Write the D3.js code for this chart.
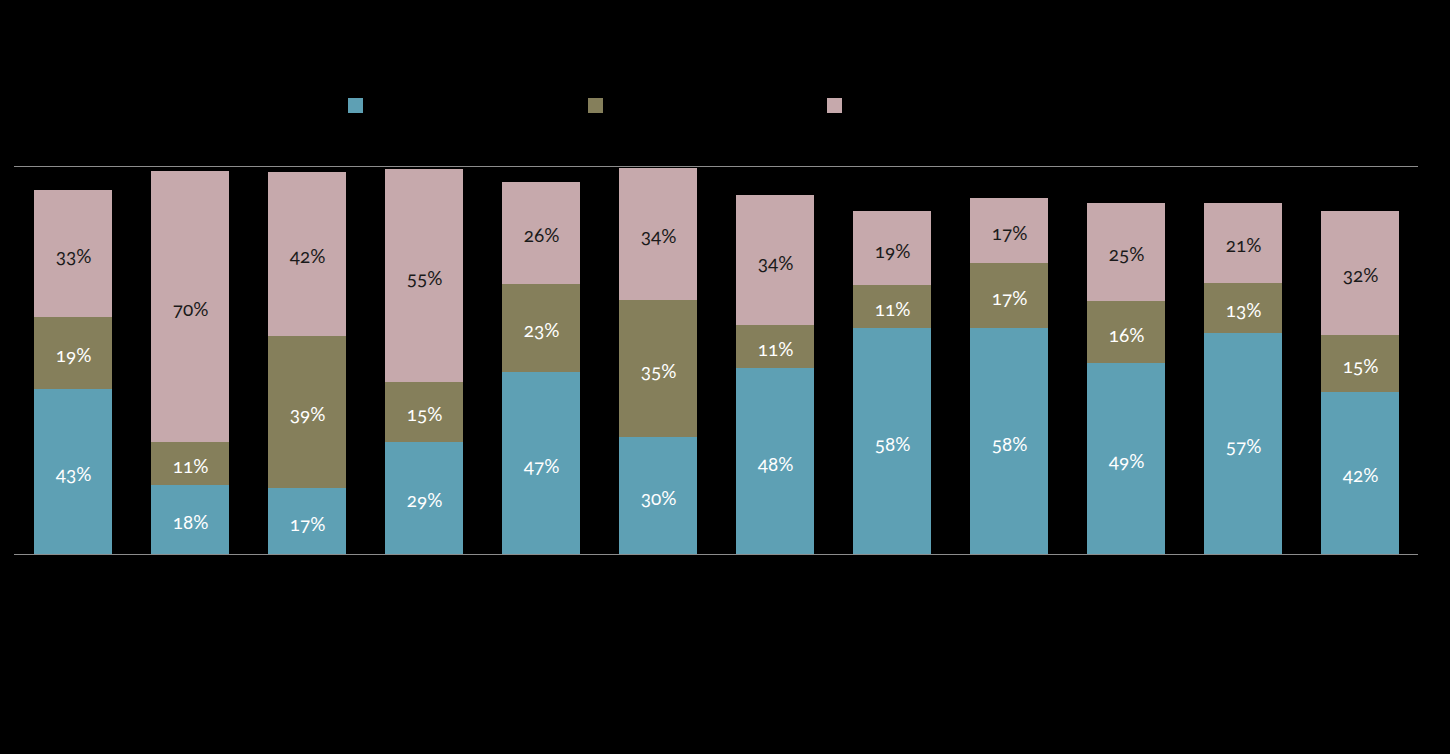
<!DOCTYPE html>
<html>
<head>
<meta charset="utf-8">
<script src="https://cdn.jsdelivr.net/npm/d3@7"></script>
<style>
  html, body { margin: 0; padding: 0; background: #000; }
  svg { display: block; }
  .lbl { font-feature-settings: "onum" 1; font-variant-numeric: oldstyle-nums; }
</style>
</head>
<body>
<svg id="chart" width="1450" height="754"></svg>
<script>
// Data (percent shares per column; labels show rounded values)
const categories = ["1", "2", "3", "4", "5", "6", "7", "8", "9", "10", "11", "12"];
const seriesNames = ["Series A", "Series B", "Series C"];
const seriesA = [42.6, 17.8, 17.0, 28.9, 46.9, 30.2, 47.9, 58.2, 58.2, 49.2, 57.0, 41.8];
const seriesB = [18.6, 11.1, 39.2, 15.4, 22.7, 35.3, 11.1, 11.1, 16.8, 16.0, 12.9, 14.7];
const seriesC = [32.7, 69.8, 42.3, 54.9, 26.3, 34.0, 33.5, 19.1, 16.8, 25.3, 20.6, 32.0];
const yTicks = [0, 100];

const colors = ["#5ea0b4", "#857f5b", "#c6a9ac"];
const labelColors = ["#ffffff", "#ffffff", "#1a1a1a"];

const rows = categories.map((c, i) => ({ cat: c, s0: seriesA[i], s1: seriesB[i], s2: seriesC[i] }));
const keys = ["s0", "s1", "s2"];

const svg = d3.select("#chart");
const plotLeft = 14, plotRight = 1418, plotTop = 166, plotBottom = 554;

const x = d3.scaleBand().domain(categories).range([plotLeft, plotRight])
  .paddingInner(1 / 3).paddingOuter(1 / 6);
const y = d3.scaleLinear().domain([0, 100]).range([plotBottom, plotTop]);

// gridlines
svg.append("g").selectAll("line").data(yTicks).join("line")
  .attr("x1", plotLeft).attr("x2", plotRight)
  .attr("y1", d => Math.round(y(d)) + 0.5).attr("y2", d => Math.round(y(d)) + 0.5)
  .attr("stroke", "#8c8c8c").attr("stroke-width", 1);

const stacked = d3.stack().keys(keys)(rows);

const layers = svg.append("g").selectAll("g").data(stacked).join("g")
  .attr("fill", (d, i) => colors[i]);

layers.selectAll("rect").data(d => d).join("rect")
  .attr("x", d => Math.round(x(d.data.cat) + 0.5))
  .attr("width", Math.round(x.bandwidth()))
  .attr("y", d => Math.round(y(d[1])))
  .attr("height", d => Math.round(y(d[0])) - Math.round(y(d[1])));

// baseline on top of bars
svg.append("line")
  .attr("x1", plotLeft).attr("x2", plotRight)
  .attr("y1", Math.round(y(0)) + 0.5).attr("y2", Math.round(y(0)) + 0.5)
  .attr("stroke", "#8c8c8c").attr("stroke-width", 1);

// value labels
svg.append("g").selectAll("g").data(stacked).join("g")
  .attr("fill", (d, i) => labelColors[i])
  .selectAll("text").data(d => d).join("text")
  .attr("class", "lbl")
  .attr("x", d => x(d.data.cat) + x.bandwidth() / 2 + 1)
  .attr("y", d => (y(d[0]) + y(d[1])) / 2 + 2)
  .attr("text-anchor", "middle")
  .attr("dominant-baseline", "central")
  .attr("font-family", "Lato, 'Open Sans', sans-serif")
  .attr("font-size", 19)
  .text(d => Math.round(d[1] - d[0]) + "%");

// legend swatches (legend text is black on black in the reference)
const legendX = [348, 588, 827];
const legend = svg.append("g").selectAll("g").data(seriesNames).join("g")
  .attr("transform", (d, i) => `translate(${legendX[i]},98)`);
legend.append("rect").attr("width", 15).attr("height", 15).attr("fill", (d, i) => colors[i]);
</script>
</body>
</html>
